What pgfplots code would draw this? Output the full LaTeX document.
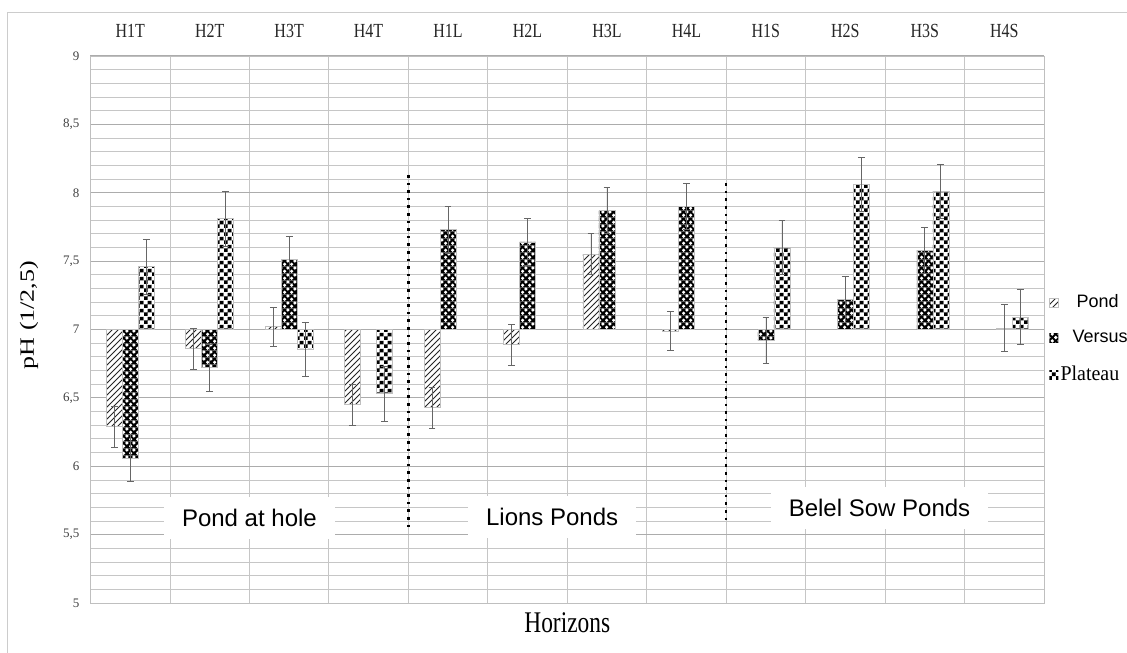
\documentclass[border=0pt]{standalone}
\usepackage{pgfplots}
\pgfplotsset{compat=1.18}
\usepackage{pgfplotstable}
\usepackage{graphicx}
\usepackage{fontspec}
\setmainfont{Liberation Serif}
\setsansfont{Liberation Sans}
\usetikzlibrary{patterns}

% dotted pattern (Versus)
\pgfdeclarepatterninherentlycolored{versus}{\pgfpointorigin}{\pgfqpoint{3.4pt}{3.4pt}}{\pgfqpoint{3.4pt}{3.4pt}}{%
  \pgfsetfillcolor{black}%
  \pgfpathrectangle{\pgfpointorigin}{\pgfqpoint{3.4pt}{3.4pt}}\pgfusepath{fill}%
  \pgfsetfillcolor{white}%
  \pgfpathcircle{\pgfqpoint{0.85pt}{0.85pt}}{0.9pt}%
  \pgfpathcircle{\pgfqpoint{2.55pt}{2.55pt}}{0.9pt}\pgfusepath{fill}}
% checkerboard (Plateau)
\pgfdeclarepatterninherentlycolored{plateau}{\pgfpointorigin}{\pgfqpoint{4pt}{4pt}}{\pgfqpoint{4pt}{4pt}}{%
  \pgfsetfillcolor{white}%
  \pgfpathrectangle{\pgfpointorigin}{\pgfqpoint{4pt}{4pt}}\pgfusepath{fill}%
  \pgfsetfillcolor{black}%
  \pgfpathrectangle{\pgfpointorigin}{\pgfqpoint{2pt}{2pt}}%
  \pgfpathrectangle{\pgfqpoint{2pt}{2pt}}{\pgfqpoint{2pt}{2pt}}\pgfusepath{fill}}

\newcommand{\hz}[1]{\scalebox{0.8}[1]{#1}}

% x: 0..11 = H1T..H4S ; ph = bar top, err = error bar
\pgfplotstableread{
x ph err
0 6.29 0.15
1 6.86 0.15
2 7.02 0.14
3 6.45 0.15
4 6.43 0.15
5 6.89 0.15
6 7.55 0.15
7 6.99 0.145
}\pond
\pgfplotstableread{
x ph err
0 6.06 0.17
1 6.72 0.17
2 7.51 0.17
4 7.73 0.17
5 7.64 0.17
6 7.87 0.17
7 7.90 0.17
8 6.92 0.17
9 7.22 0.17
10 7.58 0.17
11 7.01 0.17
}\versus
\pgfplotstableread{
x ph err
0 7.46 0.20
1 7.81 0.20
2 6.855 0.195
3 6.53 0.20
8 7.60 0.20
9 8.06 0.20
10 8.01 0.20
11 7.09 0.20
}\plateau

\begin{document}
\begin{tikzpicture}
\begin{axis}[
    width=476.75pt, height=273.5pt, scale only axis,
    ybar, bar width=8pt,
    xmin=-0.5, xmax=11.5, ymin=-2, ymax=2,
    xtick={0,...,11},
    xticklabels={\hz{H1T},\hz{H2T},\hz{H3T},\hz{H4T},\hz{H1L},\hz{H2L},\hz{H3L},\hz{H4L},\hz{H1S},\hz{H2S},\hz{H3S},\hz{H4S}},
    xticklabel pos=upper,
    xticklabel style={anchor=base, yshift=5pt, font=\fontsize{10}{12}\selectfont, text=black!85},
    minor xtick={0.5,1.5,...,10.5},
    xmajorgrids=false, xminorgrids=true,
    ytick={-2,-1.5,...,2},
    yticklabels={5,{5,5},6,{6,5},7,{7,5},8,{8,5},9},
    yticklabel style={font=\fontsize{6.5}{7}\selectfont, text=black!75, xshift=-2pt},
    minor y tick num=4,
    ymajorgrids, yminorgrids,
    major grid style={gray!65, line width=0.5pt},
    minor grid style={gray!45, line width=0.4pt},
    tick style={draw=none},
    axis line style={gray!50},
    xlabel={\scalebox{0.78}[1]{Horizons}},
    xlabel style={at={(axis description cs:0.5,0)}, anchor=center, yshift=-10pt, font=\fontsize{15}{17}\selectfont},
    ylabel={\scalebox{1}[0.78]{pH (1/2,5)}},
    ylabel style={at={(axis description cs:-0.0645,0.5265)}, anchor=center, font=\fontsize{13}{15}\selectfont},
    legend style={at={(1.005,0.572)}, anchor=north west, draw=none, fill=none, inner sep=0pt, row sep=6pt},
    legend cell align=left,
    legend image code/.code={\draw[#1, draw=none] (0pt,-2.2pt) rectangle (4.4pt,2.2pt);},
]
\addplot[draw=gray!50, line width=0.3pt, fill=white,
    postaction={pattern=north east lines, pattern color=black!85}, bar shift=-8pt,
    error bars/.cd, y dir=both, y explicit,
    error bar style={gray!80!black, line width=0.4pt},
    error mark options={rotate=90, mark size=1.7pt, gray!80!black, line width=0.4pt}]
    table[x=x, y expr=\thisrow{ph}-7, y error=err] {\pond};
\addlegendentry{\sffamily\fontsize{9}{10}\selectfont\hspace{7pt}Pond}

\addplot[draw=gray!50, line width=0.3pt, pattern=versus, bar shift=0pt,
    error bars/.cd, y dir=both, y explicit,
    error bar style={gray!80!black, line width=0.4pt},
    error mark options={rotate=90, mark size=1.7pt, gray!80!black, line width=0.4pt}]
    table[x=x, y expr=\thisrow{ph}-7, y error=err] {\versus};
\addlegendentry{\sffamily\fontsize{9}{10}\selectfont\hspace{5pt}Versus}

\addplot[draw=gray!50, line width=0.3pt, pattern=plateau, bar shift=8pt,
    error bars/.cd, y dir=both, y explicit,
    error bar style={gray!80!black, line width=0.4pt},
    error mark options={rotate=90, mark size=1.7pt, gray!80!black, line width=0.4pt}]
    table[x=x, y expr=\thisrow{ph}-7, y error=err] {\plateau};
\addlegendentry{\fontsize{10.5}{11}\selectfont\hspace{-1pt}\scalebox{0.95}[1]{Plateau}}

% group separators
\draw[line width=1.3pt, dash pattern=on 1.3pt off 2.5pt] (axis cs:3.5,1.13) -- (axis cs:3.5,-1.47);
\draw[line width=1.3pt, dash pattern=on 1.3pt off 2.5pt] (axis cs:7.5,1.07) -- (axis cs:7.5,-1.40);

\node[fill=white, inner xsep=9pt, inner ysep=6pt, font=\sffamily\fontsize{12}{14}\selectfont] at (axis cs:1.5,-1.38) {Pond at hole};
\node[fill=white, inner xsep=9pt, inner ysep=6pt, font=\sffamily\fontsize{12}{14}\selectfont] at (axis cs:5.31,-1.37) {Lions Ponds};
\node[fill=white, inner xsep=9pt, inner ysep=6pt, font=\sffamily\fontsize{12}{14}\selectfont] at (axis cs:9.43,-1.305) {Belel Sow Ponds};
\end{axis}
\draw[gray!40, line width=0.5pt] (-41.25pt,-30pt) -- (-41.25pt,295pt) -- (530pt,295pt);
\pgfresetboundingbox
\path (-45.25pt,-24.5pt) rectangle (518.25pt,301.5pt);
\end{tikzpicture}
\end{document}
